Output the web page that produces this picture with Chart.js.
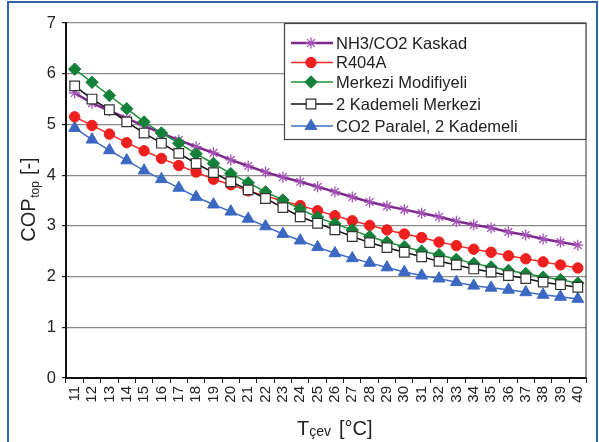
<!DOCTYPE html>
<html>
<head>
<meta charset="utf-8">
<script src="https://cdn.jsdelivr.net/npm/chart.js@4/dist/chart.umd.min.js"></script>
<style>
  html, body { margin: 0; padding: 0; background: #ffffff; }
  #wrap { width: 599px; height: 442px; position: relative; }
</style>
</head>
<body>
<div id="wrap"><canvas id="c" width="599" height="442"></canvas></div>
<script>
// Ambient temperature categories (°C)
const temperatures = [11,12,13,14,15,16,17,18,19,20,21,22,23,24,25,26,27,28,29,30,31,32,33,34,35,36,37,38,39,40];

// COP values per system
const nh3co2Kaskad = [5.62,5.42,5.27,5.12,4.97,4.83,4.69,4.56,4.44,4.30,4.18,4.06,3.96,3.87,3.77,3.67,3.57,3.47,3.39,3.32,3.25,3.18,3.09,3.02,2.96,2.88,2.82,2.74,2.68,2.62];
const r404a        = [5.15,4.98,4.81,4.64,4.48,4.33,4.19,4.06,3.92,3.81,3.69,3.59,3.49,3.40,3.30,3.20,3.10,3.01,2.92,2.84,2.77,2.68,2.61,2.54,2.48,2.41,2.35,2.29,2.23,2.17];
const merkeziMod   = [6.09,5.83,5.57,5.31,5.05,4.83,4.63,4.42,4.23,4.03,3.85,3.67,3.51,3.33,3.17,3.04,2.92,2.79,2.68,2.59,2.50,2.43,2.34,2.26,2.19,2.12,2.06,1.99,1.94,1.87];
const kademeli2    = [5.76,5.50,5.29,5.05,4.83,4.63,4.43,4.23,4.05,3.87,3.71,3.54,3.36,3.18,3.05,2.92,2.79,2.67,2.57,2.48,2.39,2.30,2.23,2.15,2.09,2.02,1.96,1.89,1.84,1.79];
const co2Paralel   = [4.93,4.70,4.49,4.29,4.09,3.92,3.75,3.57,3.42,3.28,3.14,2.99,2.84,2.71,2.58,2.46,2.36,2.27,2.18,2.09,2.02,1.96,1.89,1.82,1.78,1.74,1.69,1.64,1.60,1.56];

// Series names
const seriesNames = ['NH3/CO2 Kaskad', 'R404A', 'Merkezi Modifiyeli', '2 Kademeli Merkezi', 'CO2 Paralel, 2 Kademeli'];

// Y axis ticks
const yTicks = [0,1,2,3,4,5,6,7];

const FONT = '"Liberation Sans", Arial, Helvetica, sans-serif';
const TEXT = '#222222';

const datasets = [
  { label: seriesNames[0], data: nh3co2Kaskad, borderColor: '#7b2a8c', borderWidth: 2.5,
    pointStyle: 'star', pointRadius: 5.5, pointBorderColor: '#a552b8', pointBackgroundColor: '#a552b8', pointBorderWidth: 1.3, order: 2 },
  { label: seriesNames[1], data: r404a, borderColor: '#f02a24', borderWidth: 1.5,
    pointStyle: 'circle', pointRadius: 5.2, pointBorderColor: '#ee1f1f', pointBackgroundColor: '#ee1f1f', pointBorderWidth: 1, order: 2 },
  { label: seriesNames[2], data: merkeziMod, borderColor: '#1f9138', borderWidth: 1.5,
    pointStyle: 'rectRot', pointRadius: 6.2, pointBorderColor: '#13813a', pointBackgroundColor: '#13813a', pointBorderWidth: 1, order: 1 },
  { label: seriesNames[3], data: kademeli2, borderColor: '#111111', borderWidth: 1.5,
    pointStyle: 'rect', pointRadius: 6.8, pointBorderColor: '#333333', pointBackgroundColor: '#ffffff', pointBorderWidth: 1.2, order: 0 },
  { label: seriesNames[4], data: co2Paralel, borderColor: '#3f6cc4', borderWidth: 1.5,
    pointStyle: 'triangle', pointRadius: 6.8, pointBorderColor: '#3a68c2', pointBackgroundColor: '#3a68c2', pointBorderWidth: 1, order: 2 }
];
datasets.forEach(d => { d.tension = 0; d.fill = false; d.pointHoverRadius = d.pointRadius; });

function drawMarker(ctx, ds, x, y) {
  ctx.save();
  ctx.fillStyle = ds.pointBackgroundColor;
  ctx.strokeStyle = ds.pointBorderColor;
  ctx.lineWidth = ds.pointBorderWidth;
  Chart.helpers.drawPoint(ctx, { pointStyle: ds.pointStyle, radius: ds.pointRadius, rotation: 0, borderWidth: ds.pointBorderWidth }, x, y);
  ctx.restore();
}

const decor = {
  id: 'decor',
  beforeDraw(chart) {
    const ctx = chart.ctx;
    ctx.save();
    ctx.fillStyle = '#ffffff';
    ctx.fillRect(0, 0, chart.width, chart.height);
    ctx.restore();
  },
  beforeDatasetsDraw(chart) {
    // right edge of the plotting area
    const ctx = chart.ctx, a = chart.chartArea;
    ctx.save();
    ctx.strokeStyle = '#555555';
    ctx.lineWidth = 1.2;
    ctx.beginPath();
    ctx.moveTo(a.right - 0.5, a.top);
    ctx.lineTo(a.right - 0.5, a.bottom);
    ctx.stroke();
    ctx.restore();
  },
  afterDatasetsDraw(chart) {
    const ctx = chart.ctx, a = chart.chartArea;
    // legend box in the upper right of the plot
    const bx = 284, by = a.top, bw = a.right - 284, bh = 140 - a.top;
    ctx.save();
    ctx.fillStyle = '#ffffff';
    ctx.fillRect(bx, by, bw, bh);
    ctx.strokeStyle = '#444444';
    ctx.lineWidth = 1.2;
    ctx.strokeRect(bx + 0.5, by + 0.5, bw - 1, bh - 1);
    const rows = [43, 62.5, 82, 104, 126];
    ctx.font = '16.5px ' + FONT;
    ctx.textBaseline = 'middle';
    ctx.textAlign = 'left';
    chart.data.datasets.forEach((ds, i) => {
      const y = rows[i];
      ctx.strokeStyle = ds.borderColor;
      ctx.lineWidth = ds.borderWidth;
      ctx.beginPath();
      ctx.moveTo(291, y);
      ctx.lineTo(333, y);
      ctx.stroke();
      drawMarker(ctx, ds, 311, y);
      ctx.fillStyle = TEXT;
      ctx.fillText(ds.label, 336, y + 1);
    });
    ctx.restore();
  },
  afterDraw(chart) {
    const ctx = chart.ctx;
    ctx.save();
    // frame around the figure
    ctx.strokeStyle = '#3563a8';
    ctx.lineWidth = 2;
    ctx.strokeRect(8, 2, 589, 470);

    ctx.fillStyle = TEXT;
    ctx.textBaseline = 'alphabetic';
    // y axis title: COP with subscript "top"
    ctx.save();
    ctx.translate(35, 200);
    ctx.rotate(-Math.PI / 2);
    const big = '20px ' + FONT, small = '12px ' + FONT;
    ctx.font = big; const w1 = ctx.measureText('COP').width;
    ctx.font = small; const w2 = ctx.measureText('top').width;
    ctx.font = big; const w3 = ctx.measureText(' [-]').width;
    let x0 = -(w1 + w2 + w3) / 2;
    ctx.font = big; ctx.fillText('COP', x0, 0);
    ctx.font = small; ctx.fillText('top', x0 + w1 + 0.5, 4);
    ctx.font = big; ctx.fillText(' [-]', x0 + w1 + w2 + 1, 0);
    ctx.restore();

    // x axis title: T with subscript "çev"
    let tx = 297;
    const ty = 435;
    ctx.font = '20px ' + FONT;
    ctx.fillText('T', tx, ty);
    tx += ctx.measureText('T').width;
    ctx.font = '14px ' + FONT;
    ctx.fillText('çev', tx, ty + 1);
    tx += ctx.measureText('çev').width + 8;
    ctx.font = '20px ' + FONT;
    ctx.fillText('[°C]', tx, ty);
    ctx.restore();
  }
};

new Chart(document.getElementById('c'), {
  type: 'line',
  data: { labels: temperatures.map(String), datasets: datasets },
  options: {
    responsive: false,
    animation: false,
    devicePixelRatio: 1,
    layout: { padding: { left: 0, top: 23, right: 11, bottom: 0 } },
    plugins: { legend: { display: false }, tooltip: { enabled: false }, title: { display: false } },
    scales: {
      x: {
        type: 'category',
        offset: true,
        afterFit(scale) { scale.height = 64; },
        grid: { offset: true, drawOnChartArea: false, drawTicks: true, tickLength: 5, color: '#222222', lineWidth: 1 },
        border: { display: true, color: '#111111', width: 2 },
        ticks: { autoSkip: false, minRotation: 90, maxRotation: 90, padding: 3, color: TEXT, font: { family: FONT, size: 15 } }
      },
      y: {
        min: 0, max: 7,
        afterFit(scale) { scale.width = 66; },
        afterBuildTicks(scale) { scale.ticks = yTicks.map(v => ({ value: v })); },
        grid: { color: '#8a8a8a', lineWidth: 1.2, tickLength: 4, drawTicks: true, tickColor: '#222222' },
        border: { display: true, color: '#111111', width: 2 },
        ticks: { padding: 6, color: TEXT, font: { family: FONT, size: 16.5 } }
      }
    }
  },
  plugins: [decor]
});
</script>
</body>
</html>
